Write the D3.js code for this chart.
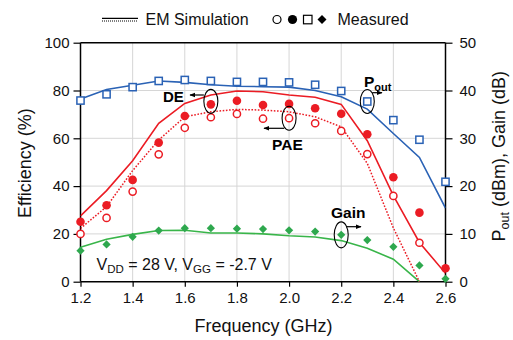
<!DOCTYPE html>
<html>
<head>
<meta charset="utf-8">
<script src="https://cdn.jsdelivr.net/npm/d3@7"></script>
<style>
  body { margin: 0; background: #fff; }
  svg { display: block; font-family: "Liberation Sans", Arial, sans-serif; }
</style>
</head>
<body>
<svg id="chart" width="513" height="340"></svg>
<script>
// ---------------- data ----------------
const freq = [1.2, 1.3, 1.4, 1.5, 1.6, 1.7, 1.8, 1.9, 2.0, 2.1, 2.2, 2.3, 2.4, 2.5, 2.6];

// EM simulation
const deSim   = [27.5, 38.1, 50.6, 66.3, 74.6, 78.1, 79.8, 79.5, 78.1, 77.2, 74.2, 59.0, 36.0, 16.4, 3.5];
const paeSim  = [22.3, 31.4, 46.5, 59.3, 69.0, 71.1, 72.1, 71.8, 71.1, 69.0, 64.8, 49.5, 22.5, 0.0];
const poutSim = [38.2, 40.2, 41.1, 42.0, 41.7, 41.2, 40.9, 40.8, 40.7, 40.0, 38.7, 36.1, 31.0, 26.0, 15.4];
const gainSim = [7.2, 8.9, 9.9, 10.7, 10.75, 10.2, 10.2, 10.0, 9.6, 9.35, 8.6, 7.0, 4.7, 0.0];

// Measured
const deMeas   = [25.1, 32.0, 42.6, 58.2, 69.3, 74.2, 75.7, 73.9, 74.4, 72.6, 70.3, 61.7, 43.7, 28.9, 5.6];
const paeMeas  = [20.0, 26.7, 37.7, 53.3, 64.4, 68.8, 70.2, 68.2, 68.4, 66.3, 63.1, 53.4, 35.9, 16.3];
const poutMeas = [37.9, 39.2, 40.7, 42.0, 42.2, 42.0, 41.8, 41.8, 41.7, 41.2, 39.9, 37.7, 33.8, 29.7, 20.9];
const gainMeas = [6.5, 7.8, 9.4, 10.7, 11.2, 11.2, 11.1, 11.0, 10.75, 10.5, 9.8, 8.7, 7.3, 3.4, 0.6];

const xTicks = [1.2, 1.4, 1.6, 1.8, 2.0, 2.2, 2.4, 2.6];
const xTickLabels = ["1.2", "1.4", "1.6", "1.8", "2.0", "2.2", "2.4", "2.6"];
const yLeftTicks = [0, 20, 40, 60, 80, 100];
const yRightTicks = [0, 10, 20, 30, 40, 50];

// ---------------- setup ----------------
const BLUE = "#2a62b5", RED = "#eb1c24", GREEN = "#39b54a", GREEN_M = "#2ea84e";
const svg = d3.select("#chart");
const X0 = 80.5, X1 = 445.5, Y0 = 281.7, Y1 = 42.7;
const x = d3.scaleLinear().domain([1.2, 2.6]).range([X0, X1]);
const yL = d3.scaleLinear().domain([0, 100]).range([Y0, Y1]);
const yR = d3.scaleLinear().domain([0, 50]).range([Y0, Y1]);

const defs = svg.append("defs");
defs.append("marker").attr("id", "ah").attr("viewBox", "0 0 10 10")
  .attr("refX", 9).attr("refY", 5).attr("markerWidth", 6).attr("markerHeight", 6)
  .attr("markerUnits", "userSpaceOnUse").attr("orient", "auto")
  .append("path").attr("d", "M0,1 L10,5 L0,9 Z").attr("fill", "#000");

// grid
const grid = svg.append("g");
grid.selectAll("line.gx").data(xTicks.filter(d => d > 1.2 && d < 2.6)).enter().append("line")
  .attr("x1", d => x(d)).attr("x2", d => x(d)).attr("y1", Y0).attr("y2", Y1)
  .attr("stroke", "#d6d6d6").attr("stroke-width", 1);
grid.selectAll("line.gy").data(yLeftTicks.filter(d => d > 0 && d < 100)).enter().append("line")
  .attr("x1", X0).attr("x2", X1).attr("y1", d => yL(d)).attr("y2", d => yL(d))
  .attr("stroke", "#d6d6d6").attr("stroke-width", 1);

// axes
const tickFont = "15px";
const axL = svg.append("g").attr("transform", `translate(${X0},0)`)
  .call(d3.axisLeft(yL).tickValues(yLeftTicks).tickSize(7).tickPadding(4));
const axR = svg.append("g").attr("transform", `translate(${X1},0)`)
  .call(d3.axisRight(yR).tickValues(yRightTicks).tickSize(7).tickPadding(7));
const axB = svg.append("g").attr("transform", `translate(0,${Y0})`)
  .call(d3.axisBottom(x).tickValues(xTicks).tickFormat((d, i) => xTickLabels[i]).tickSize(5).tickPadding(6));
[axL, axR, axB].forEach(a => {
  a.select(".domain").remove();
  a.selectAll("line").attr("stroke", "#000").attr("stroke-width", 1.2);
  a.selectAll("text").attr("font-size", tickFont).attr("fill", "#111")
    .attr("font-family", "Liberation Sans, Arial, sans-serif");
});
// frame
svg.append("line").attr("x1", X0).attr("x2", X0).attr("y1", Y1).attr("y2", Y0).attr("stroke", "#000").attr("stroke-width", 1.5);
svg.append("line").attr("x1", X1).attr("x2", X1).attr("y1", Y1).attr("y2", Y0).attr("stroke", "#000").attr("stroke-width", 1.5);
svg.append("line").attr("x1", X0).attr("x2", X1).attr("y1", Y1).attr("y2", Y1).attr("stroke", "#000").attr("stroke-width", 1.5);
svg.append("line").attr("x1", X0).attr("x2", X1).attr("y1", Y0).attr("y2", Y0).attr("stroke", "#000").attr("stroke-width", 1.5);

// lines
defs.append("clipPath").attr("id", "plotclip").append("rect")
  .attr("x", X0).attr("y", Y1 - 5).attr("width", X1 - X0).attr("height", Y0 - Y1 + 5);
const plot = svg.append("g").attr("clip-path", "url(#plotclip)");
function drawLine(vals, ys, color, dash) {
  const line = d3.line().x((d, i) => x(freq[i])).y(d => ys(d));
  plot.append("path").attr("d", line(vals)).attr("fill", "none")
    .attr("stroke", color).attr("stroke-width", dash ? 1.5 : 1.6)
    .attr("stroke-dasharray", dash || null);
}
drawLine(poutSim, yR, BLUE);
drawLine(gainSim, yR, GREEN);
drawLine(deSim, yL, RED);
drawLine(paeSim, yL, RED, "1.6,1.6");

// markers
const mk = svg.append("g");
mk.selectAll("rect.pout").data(poutMeas).enter().append("rect")
  .attr("x", (d, i) => x(freq[i]) - 3.6).attr("y", d => yR(d) - 3.6)
  .attr("width", 7.2).attr("height", 7.2)
  .attr("fill", "#fff").attr("stroke", BLUE).attr("stroke-width", 1.5);
mk.selectAll("path.gain").data(gainMeas).enter().append("path")
  .attr("d", d3.symbol().type(d3.symbolSquare).size(34))
  .attr("transform", (d, i) => `translate(${x(freq[i])},${yR(d)}) rotate(45)`)
  .attr("fill", GREEN_M);
mk.selectAll("circle.de").data(deMeas).enter().append("circle")
  .attr("cx", (d, i) => x(freq[i])).attr("cy", d => yL(d)).attr("r", 4.3)
  .attr("fill", RED);
mk.selectAll("circle.pae").data(paeMeas).enter().append("circle")
  .attr("cx", (d, i) => x(freq[i])).attr("cy", d => yL(d)).attr("r", 3.6)
  .attr("fill", "#fff").attr("stroke", RED).attr("stroke-width", 1.5);

// annotations
const ann = svg.append("g");
function ellipse(cx, cy, rx, ry) {
  ann.append("ellipse").attr("cx", cx).attr("cy", cy).attr("rx", rx).attr("ry", ry)
    .attr("fill", "none").attr("stroke", "#000").attr("stroke-width", 1.1);
}
function arrow(xa, ya, xb, yb) {
  ann.append("line").attr("x1", xa).attr("y1", ya).attr("x2", xb).attr("y2", yb)
    .attr("stroke", "#000").attr("stroke-width", 1.2).attr("marker-end", "url(#ah)");
}
// DE
ellipse(x(1.7), yL(deMeas[5]) - 3, 7, 12);
arrow(x(1.7) - 7, 95, 190, 95);
ann.append("text").attr("x", 163).attr("y", 101.5).attr("font-size", "15px").attr("font-weight", "bold").text("DE");
// PAE
ellipse(x(2.0), yL(paeMeas[8]), 7, 12);
arrow(x(2.0) - 5, 128.3, 264, 128.3);
ann.append("text").attr("x", 272).attr("y", 150).attr("font-size", "15.5px").attr("font-weight", "bold").text("PAE");
// Pout
ellipse(x(2.3), yR(poutMeas[11]), 7, 12);
arrow(x(2.3) + 5, 92.7, 382, 92.7);
const pt = ann.append("text").attr("x", 364).attr("y", 86.5).attr("font-size", "15.5px").attr("font-weight", "bold");
pt.append("tspan").text("P");
pt.append("tspan").attr("font-size", "11px").attr("dy", 4).text("out");
// Gain
ellipse(x(2.2), yR(gainMeas[10]), 7, 13);
arrow(x(2.2) + 5, 226.7, 361, 226.7);
ann.append("text").attr("x", 331).attr("y", 217.5).attr("font-size", "15.5px").attr("font-weight", "bold").text("Gain");

// bias text
const bt = ann.append("text").attr("x", 96.5).attr("y", 270).attr("font-size", "16px").attr("fill", "#111");
bt.append("tspan").text("V");
bt.append("tspan").attr("font-size", "11.5px").attr("dy", 3).text("DD");
bt.append("tspan").attr("dy", -3).text(" = 28 V, V");
bt.append("tspan").attr("font-size", "11.5px").attr("dy", 3).text("GG");
bt.append("tspan").attr("dy", -3).text(" = -2.7 V");

// axis titles
svg.append("text").attr("transform", `translate(31,${(Y0 + Y1) / 2 + 1}) rotate(-90)`)
  .attr("text-anchor", "middle").attr("font-size", "18px").attr("fill", "#111").text("Efficiency (%)");
const rt = svg.append("text").attr("transform", `translate(504.5,${(Y0 + Y1) / 2 - 6}) rotate(-90)`)
  .attr("text-anchor", "middle").attr("font-size", "18px").attr("fill", "#111");
rt.append("tspan").text("P");
rt.append("tspan").attr("font-size", "12.5px").attr("dy", 4).text("out");
rt.append("tspan").attr("dy", -4).text(" (dBm), Gain (dB)");
svg.append("text").attr("x", (X0 + X1) / 2 + 0.5).attr("y", 332).attr("text-anchor", "middle")
  .attr("font-size", "18px").attr("fill", "#111").text("Frequency (GHz)");

// legend
const lg = svg.append("g");
lg.append("line").attr("x1", 102).attr("x2", 138).attr("y1", 18.3).attr("y2", 18.3).attr("stroke", "#000").attr("stroke-width", 1.2);
lg.append("line").attr("x1", 102).attr("x2", 138).attr("y1", 21).attr("y2", 21).attr("stroke", "#000").attr("stroke-width", 1.2).attr("stroke-dasharray", "1,1");
lg.append("text").attr("x", 145.5).attr("y", 25).attr("font-size", "16px").attr("fill", "#111").text("EM Simulation");
lg.append("circle").attr("cx", 277).attr("cy", 19.5).attr("r", 4).attr("fill", "none").attr("stroke", "#000").attr("stroke-width", 1.2);
lg.append("circle").attr("cx", 292.5).attr("cy", 19.5).attr("r", 4.6).attr("fill", "#000");
lg.append("rect").attr("x", 303.5).attr("y", 15.3).attr("width", 8.5).attr("height", 8.5).attr("fill", "none").attr("stroke", "#000").attr("stroke-width", 1.2);
lg.append("path").attr("d", d3.symbol().type(d3.symbolSquare).size(40)).attr("transform", "translate(322,19.5) rotate(45)").attr("fill", "#000");
lg.append("text").attr("x", 337.5).attr("y", 25).attr("font-size", "16px").attr("fill", "#111").text("Measured");
</script>
</body>
</html>
